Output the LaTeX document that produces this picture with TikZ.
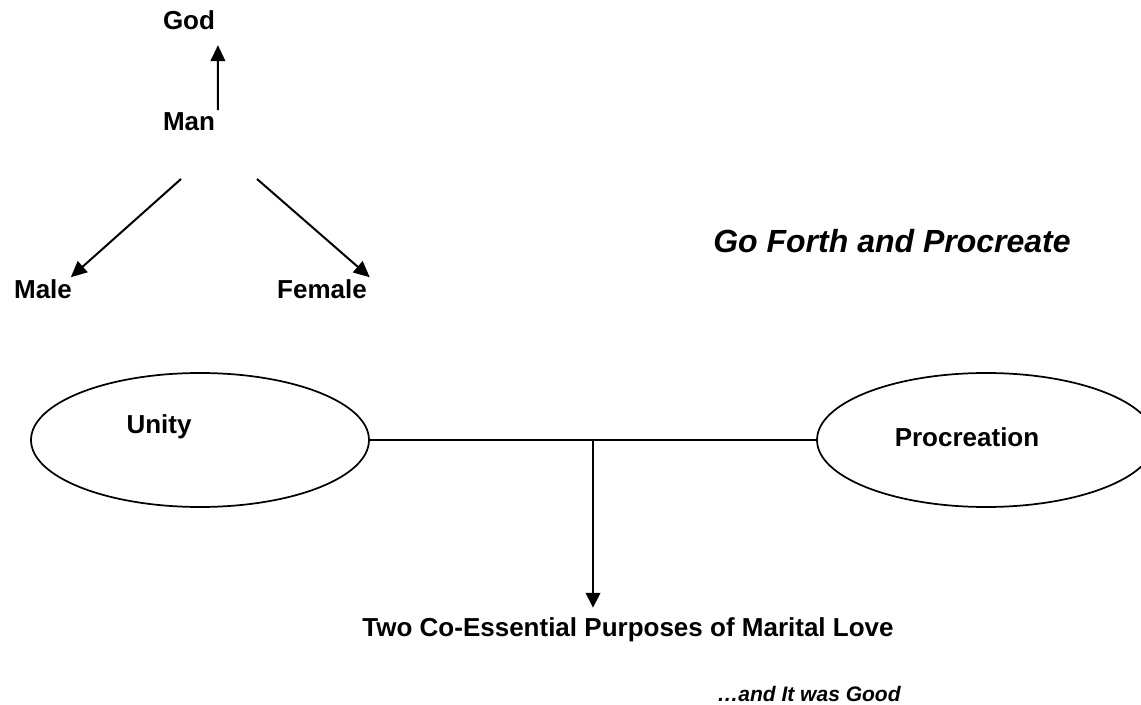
\documentclass[tikz,border=0pt]{standalone}
\usepackage{fontspec}
\setmainfont{Liberation Sans}
\usepackage{tikz}
\usetikzlibrary{arrows.meta,shapes.geometric}

\tikzset{
  lbl/.style={anchor=base,inner sep=2pt,font=\fontsize{19.5}{23}\selectfont\bfseries},
  arr/.style={line width=1.5pt,-{Triangle[length=12pt,width=11pt]}},
  oval/.style={draw,ellipse,line width=1.3pt,inner sep=0pt,minimum width=253.5pt,minimum height=100.5pt}
}

\begin{document}
\begin{tikzpicture}[x=0.75pt,y=-0.75pt]
\useasboundingbox (0,0) rectangle (1141,705);
\clip (0,0) rectangle (1141,705);
  % top part
  \node[lbl] (god) at (189,30) {God};
  \node[lbl] (man) at (189,131) {Man};
  \node[lbl] (male) at (43,299) {Male};
  \node[lbl] (female) at (322,299) {Female};
  \draw[arr,shorten >=9pt] (man.north east) -- (god.south east);
  \coordinate (lsplit) at (181,179);
  \coordinate (rsplit) at (257,179);
  \draw[arr] (lsplit) -- ([xshift=-3pt]male.north east);
  \draw[arr] (rsplit) -- (female.north east);
  \node[lbl,font=\fontsize{24}{28}\selectfont\bfseries\itshape] (forth) at (892,253) {Go Forth and Procreate};
  % the two ovals
  \node[oval] (unity) at (200,440) {};
  \node[oval] (procr) at (986,440) {};
  \node[lbl] (unitytxt) at (159,433) {Unity};
  \node[lbl] (procrtxt) at (967,446) {Procreation};
  \draw[line width=2.2pt] (unity.east) -- (procr.west);
  \coordinate (mid) at (593,440);
  \node[lbl] (two) at (628,636) {Two Co-Essential Purposes of Marital Love};
  \draw[line width=1.2pt,-{Triangle[length=11pt,width=11pt]},shorten >=5pt] (mid) -- (mid |- two.north);
  \node[lbl,font=\fontsize{15.75}{19}\selectfont\bfseries\itshape] (good) at (809,701) {…and It was Good};
\end{tikzpicture}
\end{document}
